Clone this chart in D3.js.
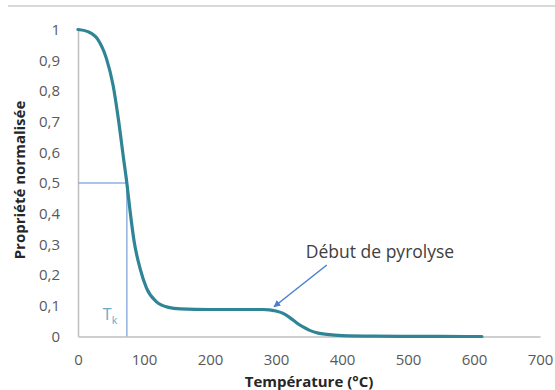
<!DOCTYPE html>
<html><head><meta charset="utf-8">
<script src="https://cdn.jsdelivr.net/npm/d3@7"></script>
<style>
html,body{margin:0;padding:0;background:#fff;}
svg{display:block;font-family:"Open Sans",sans-serif;}
</style></head>
<body>
<script>
const temperature = [0, 15, 30, 43, 53, 61, 69, 74, 79, 85, 94, 104, 119, 137, 155, 200, 250, 280, 290, 300, 310, 320, 331, 341, 351, 364, 377, 400, 450, 500, 550, 612];
const property    = [1.0, 0.993, 0.968, 0.906, 0.82, 0.711, 0.58, 0.5, 0.407, 0.31, 0.222, 0.157, 0.113, 0.095, 0.09, 0.088, 0.088, 0.088, 0.087, 0.083, 0.076, 0.063, 0.045, 0.031, 0.02, 0.011, 0.007, 0.003, 0.001, 0.0005, 0.0002, 0];
const xTicks = [0, 100, 200, 300, 400, 500, 600, 700];
const yTicks = [0, 0.1, 0.2, 0.3, 0.4, 0.5, 0.6, 0.7, 0.8, 0.9, 1];
const Tk = 74, TkValue = 0.5;
const arrowFrom = [377, 0.233], arrowTo = [297, 0.097];
const annotation = "Début de pyrolyse";
const xTitle = "Température (°C)", yTitle = "Propriété normalisée";

const W = 555, H = 390;
const x = d3.scaleLinear().domain([0, 700]).range([78, 540]);
const y = d3.scaleLinear().domain([0, 1]).range([336.5, 29.5]);

const svg = d3.select("body").append("svg").attr("width", W).attr("height", H);

svg.append("line").attr("x1", 8).attr("x2", W).attr("y1", 6).attr("y2", 6)
  .attr("stroke", "#d9d9d9").attr("stroke-width", 2);

const fmt = v => d3.format("")(+v.toFixed(1)).replace(".", ",");

// axes
const gx = svg.append("g").attr("transform", `translate(0,${y(0)})`)
  .call(d3.axisBottom(x).tickValues(xTicks).tickSize(0).tickPadding(16).tickFormat(d3.format("d")));
const gy = svg.append("g").attr("transform", `translate(${x(0)},0)`)
  .call(d3.axisLeft(y).tickValues(yTicks).tickSize(0).tickPadding(18).tickFormat(fmt));
[gx, gy].forEach(g => {
  g.select(".domain").attr("stroke", "#bfbfbf").attr("stroke-width", 1.5);
  g.selectAll("text").attr("fill", "#595959").attr("font-size", 15).attr("font-family", "Open Sans");
});
gx.selectAll("text").attr("dy", "0.32em").attr("y", 24);

// guide lines at Tk
svg.append("line").attr("x1", x(0)).attr("x2", x(Tk)).attr("y1", y(TkValue)).attr("y2", y(TkValue))
  .attr("stroke", "#8fb0df").attr("stroke-width", 1.5);
svg.append("line").attr("x1", x(Tk)).attr("x2", x(Tk)).attr("y1", y(TkValue)).attr("y2", y(0))
  .attr("stroke", "#8fb0df").attr("stroke-width", 1.5);

// curve
const line = d3.line().x((d, i) => x(temperature[i])).y(d => y(d)).curve(d3.curveMonotoneX);
svg.append("path").attr("d", line(property)).attr("fill", "none")
  .attr("stroke", "#2f8596").attr("stroke-width", 3.2).attr("stroke-linecap", "round");

// Tk label
const tk = svg.append("text").attr("x", x(Tk) - 24).attr("y", 320).attr("fill", "#66a9c9")
  .attr("font-size", 16);
tk.append("tspan").text("T");
tk.append("tspan").attr("font-size", 10.5).attr("dy", 4).text("k");

// arrow
svg.append("defs").append("marker").attr("id", "ah").attr("viewBox", "0 0 10 10")
  .attr("refX", 9).attr("refY", 5).attr("markerWidth", 7).attr("markerHeight", 7)
  .attr("orient", "auto").attr("markerUnits", "userSpaceOnUse")
  .append("path").attr("d", "M0,0 L10,5 L0,10 Z").attr("fill", "#4a7fd0");
svg.append("line").attr("x1", x(arrowFrom[0])).attr("y1", y(arrowFrom[1]))
  .attr("x2", x(arrowTo[0])).attr("y2", y(arrowTo[1]))
  .attr("stroke", "#4a7fd0").attr("stroke-width", 1.5).attr("marker-end", "url(#ah)");

svg.append("text").attr("x", 380).attr("y", 258).attr("text-anchor", "middle")
  .attr("fill", "#404040").attr("font-size", 17.5).text(annotation);

// titles
svg.append("text").attr("x", 309).attr("y", 387).attr("text-anchor", "middle")
  .attr("font-weight", "bold").attr("font-size", 15).attr("fill", "#262626").text(xTitle);
svg.append("text").attr("transform", "translate(25,180) rotate(-90)").attr("text-anchor", "middle")
  .attr("font-weight", "bold").attr("font-size", 15).attr("fill", "#262626").text(yTitle);
</script>
</body></html>
